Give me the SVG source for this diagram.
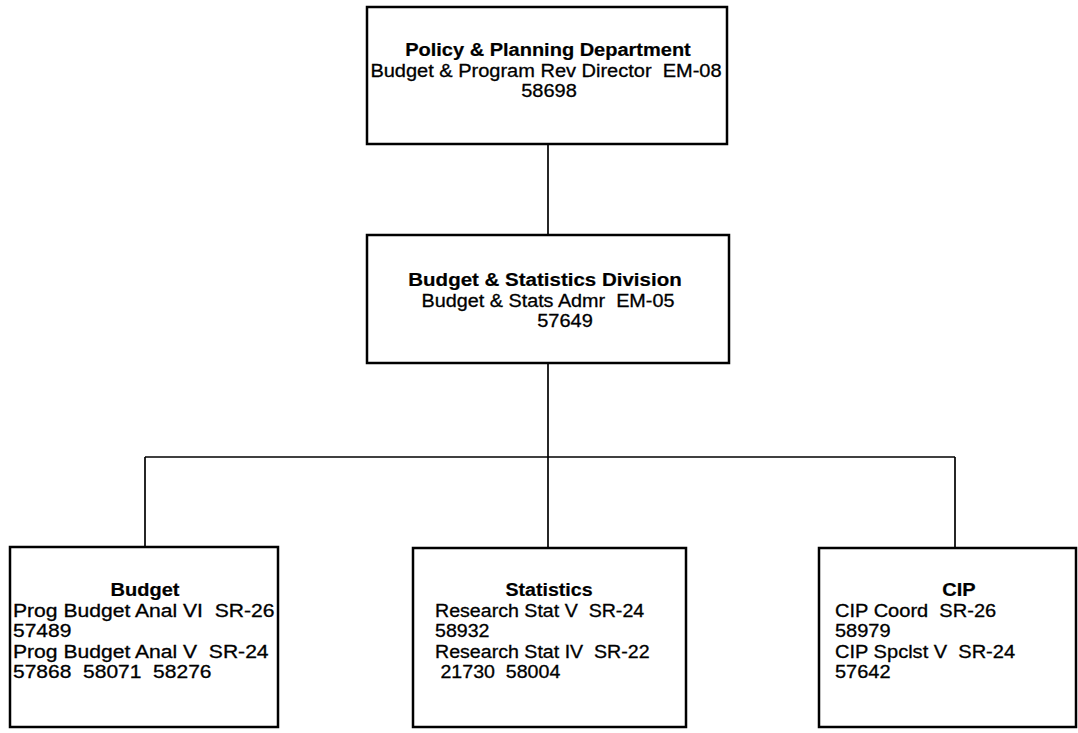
<svg xmlns="http://www.w3.org/2000/svg" width="1078" height="733" viewBox="0 0 1078 733">
<style>
.box{fill:#fff;stroke:#000;stroke-width:2.5}
.con{fill:none;stroke:#000;stroke-width:1.7}
text{font-family:"Liberation Sans",Arial,sans-serif;font-size:18px;fill:#000;stroke:#000;stroke-width:0.3;white-space:pre}
.t{font-weight:bold;stroke-width:0.2}
.c{text-anchor:middle}
</style>
<rect width="1078" height="733" fill="#fff"/>
<g id="connectors">
<line class="con" x1="548" y1="144" x2="548" y2="235"/>
<line class="con" x1="548" y1="363" x2="548" y2="548"/>
<line class="con" x1="145" y1="457" x2="955" y2="457"/>
<line class="con" x1="145" y1="457" x2="145" y2="547"/>
<line class="con" x1="955" y1="457" x2="955" y2="548"/>
</g>
<g id="policy">
<rect class="box" x="367" y="7" width="360" height="137"/>
<text class="t c" x="548" y="56" textLength="285.6" lengthAdjust="spacingAndGlyphs">Policy &amp; Planning Department</text>
<text class="c" x="546" y="76.5" textLength="351.2" lengthAdjust="spacingAndGlyphs">Budget &amp; Program Rev Director  EM-08</text>
<text class="c" x="549" y="97" textLength="55.6" lengthAdjust="spacingAndGlyphs">58698</text>
</g>
<g id="division">
<rect class="box" x="367" y="235" width="362" height="128"/>
<text class="t c" x="545" y="286" textLength="273.4" lengthAdjust="spacingAndGlyphs">Budget &amp; Statistics Division</text>
<text class="c" x="548" y="306.5" textLength="252.9" lengthAdjust="spacingAndGlyphs">Budget &amp; Stats Admr  EM-05</text>
<text class="c" x="565" y="327" textLength="55.6" lengthAdjust="spacingAndGlyphs">57649</text>
</g>
<g id="budget">
<rect class="box" x="10" y="547" width="268" height="180"/>
<text class="t c" x="145" y="596" textLength="68.9" lengthAdjust="spacingAndGlyphs">Budget</text>
<text x="13" y="616.5" textLength="261.5" lengthAdjust="spacingAndGlyphs">Prog Budget Anal VI  SR-26</text>
<text x="13" y="637" textLength="58.4" lengthAdjust="spacingAndGlyphs">57489</text>
<text x="13" y="657.5" textLength="255.6" lengthAdjust="spacingAndGlyphs">Prog Budget Anal V  SR-24</text>
<text x="13" y="678" textLength="198.5" lengthAdjust="spacingAndGlyphs">57868  58071  58276</text>
</g>
<g id="statistics">
<rect class="box" x="413" y="548" width="273" height="179"/>
<text class="t c" x="549" y="596" textLength="87.1" lengthAdjust="spacingAndGlyphs">Statistics</text>
<text x="435" y="616.5" textLength="209.2" lengthAdjust="spacingAndGlyphs">Research Stat V  SR-24</text>
<text x="435" y="637" textLength="54.5" lengthAdjust="spacingAndGlyphs">58932</text>
<text x="435" y="657.5" textLength="214.6" lengthAdjust="spacingAndGlyphs">Research Stat IV  SR-22</text>
<text x="435" y="678" textLength="125.3" lengthAdjust="spacingAndGlyphs"> 21730  58004</text>
</g>
<g id="cip">
<rect class="box" x="819" y="548" width="257" height="179"/>
<text class="t c" x="959" y="596" textLength="33.3" lengthAdjust="spacingAndGlyphs">CIP</text>
<text x="835" y="616.5" textLength="161.2" lengthAdjust="spacingAndGlyphs">CIP Coord  SR-26</text>
<text x="835" y="637" textLength="55.6" lengthAdjust="spacingAndGlyphs">58979</text>
<text x="835" y="657.5" textLength="180.1" lengthAdjust="spacingAndGlyphs">CIP Spclst V  SR-24</text>
<text x="835" y="678" textLength="55.6" lengthAdjust="spacingAndGlyphs">57642</text>
</g>
</svg>
